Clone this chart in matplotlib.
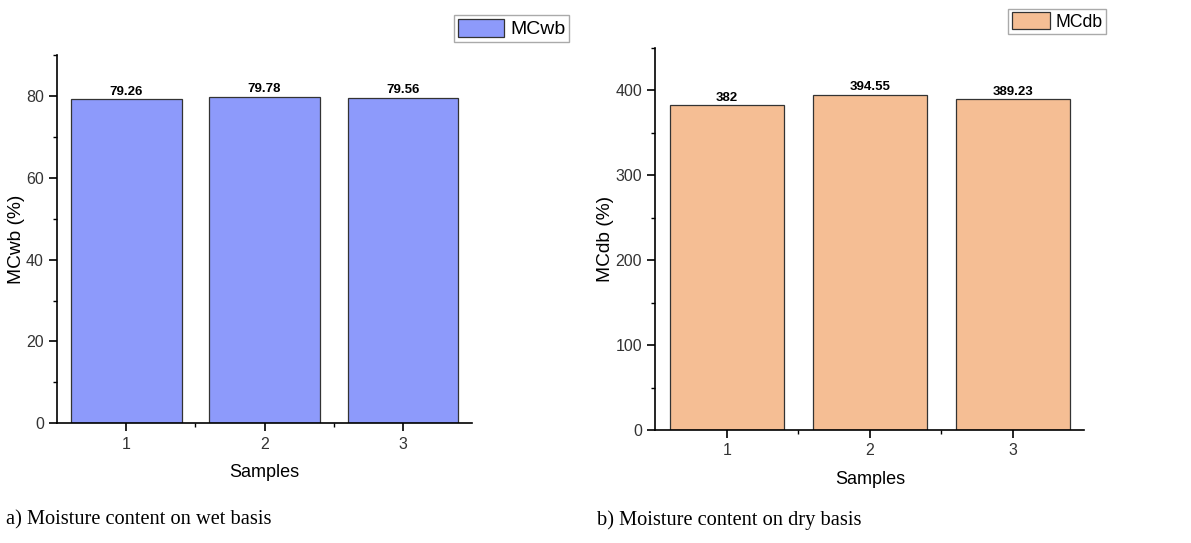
import matplotlib.pyplot as plt
from matplotlib.ticker import MultipleLocator, FixedLocator

samples = [1, 2, 3]
mcwb = [79.26, 79.78, 79.56]
mcdb = [382, 394.55, 389.23]
mcwb_labels = ["79.26", "79.78", "79.56"]
mcdb_labels = ["382", "394.55", "389.23"]

plt.rcParams["font.family"] = ["Liberation Sans", "DejaVu Sans"]

fig = plt.figure(figsize=(11.91, 5.43), dpi=100)


def bar_panel(rect, values, labels, color, ylim, major, minor, ylabel,
              legend_name, legend_anchor, legend_size, handle_len, caption, caption_x):
    ax = fig.add_axes(rect)
    bars = ax.bar(samples, values, width=0.8, color=color, edgecolor="#333333",
                  linewidth=0.9, label=legend_name)
    for b, lab in zip(bars, labels):
        ax.annotate(lab, (b.get_x() + b.get_width() / 2, b.get_height()),
                    xytext=(0, 1), textcoords="offset points",
                    ha="center", va="bottom", fontsize=9.5, fontweight="bold")
    ax.set_xlim(0.5, 3.5)
    ax.set_ylim(*ylim)
    ax.set_xticks(samples)
    ax.xaxis.set_minor_locator(FixedLocator([1.5, 2.5]))
    ax.yaxis.set_major_locator(MultipleLocator(major))
    ax.yaxis.set_minor_locator(MultipleLocator(minor))
    ax.spines["top"].set_visible(False)
    ax.spines["right"].set_visible(False)
    for s in ("left", "bottom"):
        ax.spines[s].set_linewidth(1.2)
    ax.tick_params(which="major", direction="out", length=6, width=1.2,
                   labelsize=11.5, labelcolor="#333333")
    ax.tick_params(which="minor", direction="out", length=3, width=1.0)
    ax.set_xlabel("Samples", fontsize=13, labelpad=9)
    ax.set_ylabel(ylabel, fontsize=13.8, labelpad=1)
    leg = ax.legend(loc="upper right", bbox_to_anchor=legend_anchor,
                    bbox_transform=fig.transFigure, borderaxespad=0,
                    fancybox=False, edgecolor="#aaaaaa", fontsize=legend_size,
                    handlelength=handle_len, handleheight=1.1, handletextpad=0.3,
                    borderpad=0.2, framealpha=1)
    leg.get_frame().set_linewidth(1.0)
    fig.text(caption_x, 0.042, caption, family="Liberation Serif",
             fontsize=14.7, ha="left", va="center")
    return ax


bar_panel([0.0479, 0.2204, 0.3484, 0.6783], mcwb, mcwb_labels, "#8d9afb",
          (0, 90), 20, 10, "MCwb (%)", "MCwb", (0.478, 0.973), 14, 2.4,
          "a) Moisture content on wet basis", 0.005)
bar_panel([0.5502, 0.2081, 0.3602, 0.7040], mcdb, mcdb_labels, "#f5be94",
          (0, 450), 100, 50, "MCdb (%)", "MCdb", (0.929, 0.984), 12.7, 2.2,
          "b) Moisture content on dry basis", 0.501)

fig.savefig("out.png", dpi=100)
